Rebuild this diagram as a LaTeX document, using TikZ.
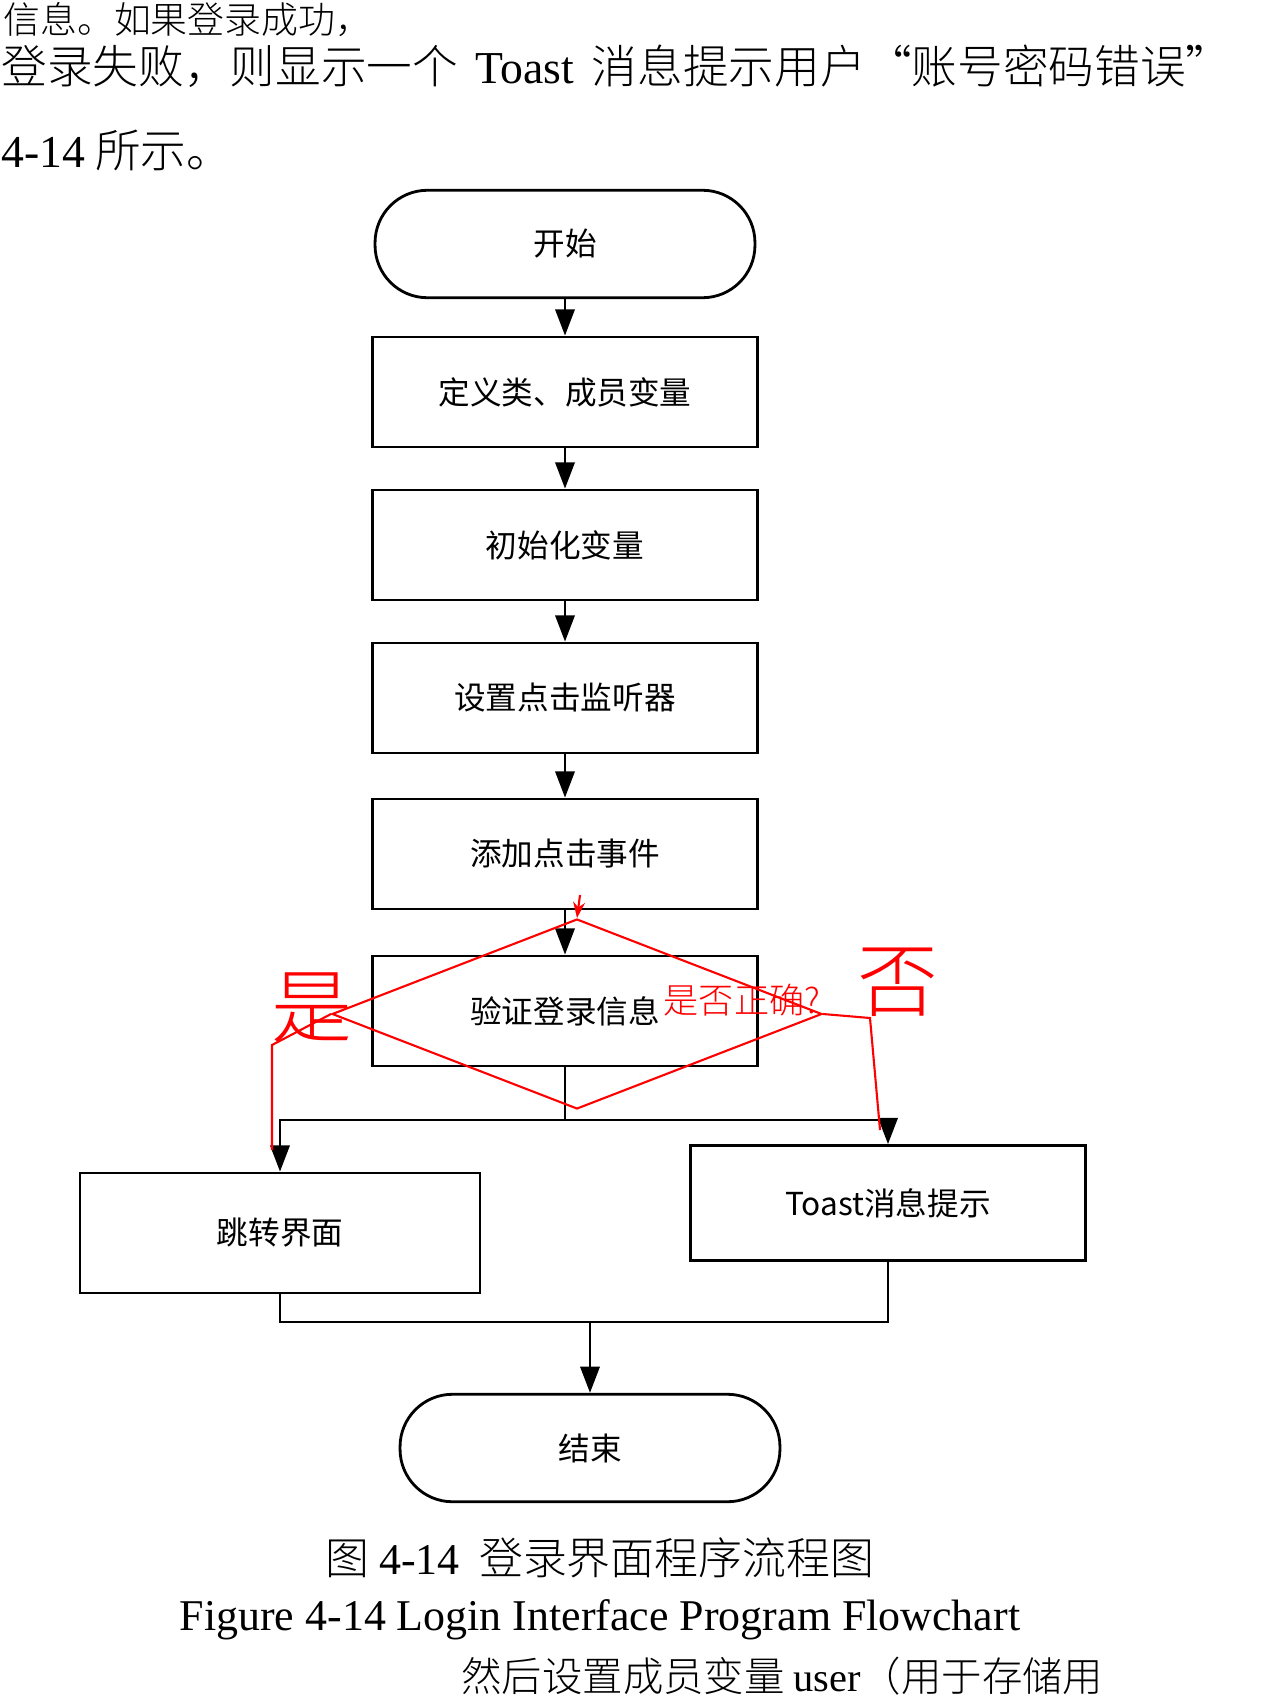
\documentclass[tikz,border=0pt]{standalone}
\usepackage{fontspec}
\setmainfont{Liberation Serif}
\newfontfamily\cjk{Noto Sans CJK SC}
\newfontfamily\cjkbody{Noto Sans CJK SC Light}
\usetikzlibrary{arrows.meta, positioning, shapes.geometric}

\begin{document}
\begin{tikzpicture}[
    x=0.02cm, y=-0.02cm,
    >={Triangle[length=15pt,width=11pt]},
    line width=1.6pt,
    proc/.style={draw, rectangle, minimum width=7.7cm, minimum height=2.2cm, align=center, font=\cjk\fontsize{18}{22}\selectfont},
    term/.style={draw, rectangle, rounded corners=1.05cm, minimum width=7.6cm, minimum height=2.15cm, align=center, font=\cjk\fontsize{18}{22}\selectfont},
    arr/.style={->},
    hand/.style={red, line width=1.2pt},
    bodytext/.style={anchor=west, inner sep=0pt, font=\cjkbody\fontsize{26}{30}\selectfont}
]
\useasboundingbox (0,0) rectangle (1280,1703);

% page text around the figure
\node[bodytext, font=\cjkbody\fontsize{21}{24}\selectfont] (txta) at (2,20) {信息。如果登录成功，};
\node[bodytext] (txtb) at (0,66) {登录失败，则显示一个 \,{\rmfamily Toast}\, 消息提示用户“账号密码错误”};
\node[bodytext] (txtc) at (0,150) {{\rmfamily 4-14} 所示。};

% flowchart
\node[term] (start) at (565,244) {开始};
\node[proc] (defvar) at (565,392) {定义类、成员变量};
\node[proc] (initvar) at (565,545) {初始化变量};
\node[proc] (listener) at (565,698) {设置点击监听器};
\node[proc] (addevent) at (565,854) {添加点击事件};
\node[proc] (verify) at (565,1011) {验证登录信息};
\node[proc, minimum width=8cm, minimum height=2.4cm] (jump) at (280,1233) {跳转界面};
\node[proc, minimum width=7.9cm, minimum height=2.3cm] (toast) at (888,1203) {Toast消息提示};
\node[term] (finish) at (590,1448) {结束};

\draw[arr] (start) -- (defvar);
\draw[arr] (defvar) -- (initvar);
\draw[arr] (initvar) -- (listener);
\draw[arr] (listener) -- (addevent);
\draw[arr] (addevent) -- (verify);

\coordinate (split) at (565,1120);
\draw (verify.south) -- (split);
\draw[arr] (split) -| (jump.north);
\draw[arr] (split) -| (toast.north);

\coordinate (merge) at (590,1322);
\draw (jump.south) |- (merge);
\draw (toast.south) |- (merge);
\draw[arr] (merge) -- (finish);

% red hand marks
\node[diamond, hand, draw, minimum width=9.8cm, minimum height=3.8cm, inner sep=0pt] (chk) at (577,1014) {};
\draw[hand, ->, >={Stealth[length=9pt]}] (580,895) -- (chk.north);
\draw[hand] (chk.west) -- (272,1045) -- (272,1150);
\draw[hand] (chk.east) -- (870,1018) -- (880,1130);
\node[red, font=\cjkbody\fontsize{46}{50}\selectfont] (yes) at (312,1008) {是};
\node[red, font=\cjkbody\fontsize{46}{50}\selectfont] (no) at (898,982) {否};
\node[red, font=\cjkbody\fontsize{20}{24}\selectfont] (ask) at (742,1000) {是否正确?};

% captions
\node[font=\cjkbody\fontsize{25}{30}\selectfont] (capcn) at (600,1558) {图 {\rmfamily 4-14} \ 登录界面程序流程图};
\node[font=\fontsize{25}{30}\selectfont] (capen) at (600,1620) {Figure 4-14 Login Interface Program Flowchart};
\node[bodytext, font=\cjkbody\fontsize{23}{26}\selectfont] (txtd) at (460,1676) {然后设置成员变量 {\rmfamily user}（用于存储用};

\end{tikzpicture}
\end{document}
